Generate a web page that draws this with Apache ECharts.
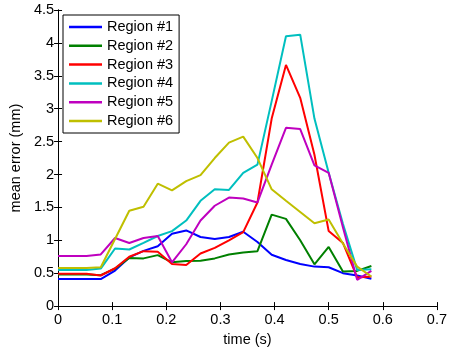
<!DOCTYPE html>
<html><head><meta charset="utf-8">
<script src="https://cdn.jsdelivr.net/npm/echarts@6/dist/echarts.min.js"></script>
<style>html,body{margin:0;padding:0;background:#fff}#c{width:450px;height:352px}</style>
</head><body><div id="c"></div>
<script>
var times = [0, 0.0263, 0.0526, 0.0789, 0.1053, 0.1316, 0.1579, 0.1842, 0.2105, 0.2368, 0.2632, 0.2895, 0.3158, 0.3421, 0.3684, 0.3947, 0.4211, 0.4474, 0.4737, 0.5, 0.5263, 0.5526, 0.5789];
var names = ['Region #1','Region #2','Region #3','Region #4','Region #5','Region #6'];
var colors = ['#0000ff','#008000','#ff0000','#00bfbf','#bf00bf','#bfbf00'];
var region1 = [0.41,0.41,0.41,0.41,0.54,0.74,0.84,0.91,1.10,1.15,1.05,1.02,1.05,1.13,0.975,0.78,0.70,0.64,0.60,0.59,0.50,0.465,0.415];
var region2 = [0.48,0.48,0.48,0.47,0.57,0.73,0.725,0.775,0.665,0.685,0.69,0.725,0.785,0.815,0.835,1.39,1.325,1.0,0.635,0.90,0.525,0.535,0.61];
var region3 = [0.49,0.49,0.49,0.465,0.575,0.75,0.835,0.825,0.64,0.625,0.80,0.885,1.0,1.125,1.575,2.85,3.665,3.165,2.3,1.14,0.96,0.435,0.45];
var region4 = [0.55,0.55,0.55,0.57,0.875,0.86,0.96,1.065,1.14,1.30,1.60,1.775,1.765,2.025,2.15,3.115,4.10,4.125,2.85,2.025,1.25,0.55,0.56];
var region5 = [0.76,0.76,0.76,0.785,1.035,0.96,1.035,1.065,0.665,0.94,1.30,1.525,1.65,1.635,1.575,2.15,2.71,2.69,2.14,2.025,1.2,0.40,0.535];
var region6 = [0.58,0.58,0.58,0.59,1.02,1.45,1.51,1.86,1.76,1.90,1.99,2.25,2.485,2.575,2.25,1.775,1.6,1.43,1.26,1.315,0.95,0.60,0.45];
var xTicks = [0, 0.1, 0.2, 0.3, 0.4, 0.5, 0.6, 0.7];
var yTicks = [0, 0.5, 1, 1.5, 2, 2.5, 3, 3.5, 4, 4.5];

var allData = [region1, region2, region3, region4, region5, region6];
var FONT = 'Liberation Sans, Arial, sans-serif';
var FS = 14.5;
function pairs(vals){ return vals.map(function(v,i){ return [times[i], v]; }); }
var series = names.map(function(n, k){
  return { name: n, type: 'line', data: pairs(allData[k]), showSymbol: false, symbol: 'none',
    lineStyle: { color: colors[k], width: 2 }, itemStyle: { color: colors[k] },
    xAxisIndex: 0, yAxisIndex: 0, animation: false, z: 2 };
});
var axisCommon = {
  axisLine: { show: true, lineStyle: { color: '#000', width: 1 } },
  axisTick: { show: true, inside: true, length: 4, lineStyle: { color: '#000' } },
  splitLine: { show: false }
};
var chart = echarts.init(document.getElementById('c'), null, { renderer: 'canvas' });
chart.setOption({
  animation: false,
  backgroundColor: '#fff',
  grid: { left: 57.3, right: 12.7, top: 10, bottom: 42, containLabel: false },
  legend: {
    orient: 'vertical', left: 63, top: 15,
    data: names,
    backgroundColor: '#fff', borderColor: '#000', borderWidth: 1, borderRadius: 0,
    padding: [4.5, 6, 4.5, 6],
    itemGap: 3.8, itemWidth: 33, itemHeight: 2.5, icon: 'rect',
    textStyle: { fontFamily: FONT, fontSize: FS, color: '#000', lineHeight: 14.5 },
    selectedMode: false
  },
  xAxis: [
    Object.assign({ type: 'value', position: 'bottom', min: 0, max: 0.7, interval: 0.1,
      name: 'time (s)', nameLocation: 'middle', nameGap: 24,
      nameTextStyle: { fontFamily: FONT, fontSize: FS, color: '#000' },
      axisLabel: { fontFamily: FONT, fontSize: FS, color: '#000', margin: 6,
        formatter: function(v){ var t = xTicks.filter(function(x){ return Math.abs(x - v) < 1e-9; }); return t.length ? String(t[0]) : ''; } }
    }, axisCommon),
    Object.assign({ type: 'value', position: 'top', min: 0, max: 0.7, interval: 0.1,
      axisLabel: { show: false } }, axisCommon)
  ],
  yAxis: [
    Object.assign({ type: 'value', position: 'left', min: 0, max: 4.5, interval: 0.5,
      name: 'mean error (mm)', nameLocation: 'middle', nameGap: 25,
      nameTextStyle: { fontFamily: FONT, fontSize: FS, color: '#000' },
      axisLabel: { fontFamily: FONT, fontSize: FS, color: '#000', margin: 4,
        formatter: function(v){ var t = yTicks.filter(function(y){ return Math.abs(y - v) < 1e-9; }); return t.length ? String(t[0]) : ''; } }
    }, axisCommon),
    Object.assign({ type: 'value', position: 'right', min: 0, max: 4.5, interval: 0.5,
      axisLabel: { show: false } }, axisCommon)
  ],
  series: series
});
</script></body></html>
